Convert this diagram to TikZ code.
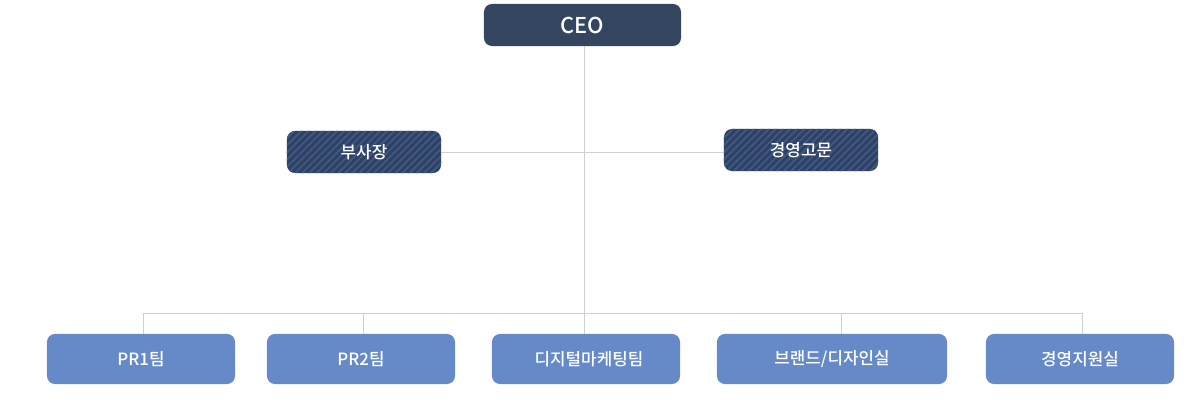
\documentclass[tikz,border=0pt]{standalone}
\usepackage{fontspec}
\setmainfont{Noto Sans CJK KR}[BoldFont={Noto Sans CJK KR Medium}]
\usepackage{tikz}
\usetikzlibrary{patterns.meta}

\definecolor{ceoblue}{HTML}{34465F}
\definecolor{stripebase}{HTML}{2D4266}
\definecolor{stripeline}{HTML}{44597F}
\definecolor{teamblue}{HTML}{658AC7}
\definecolor{linegray}{HTML}{CFCFCF}

\begin{document}
\begin{tikzpicture}[x=0.025cm, y=-0.025cm,
    ceobox/.style={rounded corners=0.2cm, fill=ceoblue, text=white,
      minimum width=4.925cm, minimum height=1.05cm, font=\fontsize{15.5}{18}\selectfont\bfseries},
    sidebox/.style={rounded corners=0.2cm, fill=stripebase, text=white,
      postaction={pattern={Lines[angle=45,distance=3.6pt,line width=1.2pt]}, pattern color=stripeline},
      minimum width=3.85cm, minimum height=1.05cm, font=\fontsize{12}{14}\selectfont\bfseries},
    teambox/.style={rounded corners=0.2cm, fill=teamblue, text=white,
      minimum width=4.7cm, minimum height=1.25cm, font=\fontsize{12}{14}\selectfont\bfseries},
    conn/.style={draw=linegray, line width=0.7pt}]
    \useasboundingbox (0,0) rectangle (1188,418);

    % Top of the chart
    \node[ceobox] (ceo) at (582.5,25) {CEO};
    \node[sidebox] (vp) at (364,152) {부사장};
    \node[sidebox] (adv) at (801,150) {경영고문};

    % Teams
    \node[teambox] (pr1) at (141,359) {PR1팀};
    \node[teambox] (pr2) at (361,359) {PR2팀};
    \node[teambox] (dig) at (586,359) {\hspace*{0.15cm}디지털마케팅팀};
    \node[teambox, minimum width=5.75cm] (brand) at (832,359) {브랜드/디자인실};
    \node[teambox] (supp) at (1080,359) {경영지원실};

    % Connect points
    \coordinate (bus) at (584,313);
    \coordinate (t1) at (143,313);
    \coordinate (t2) at (363,313);
    \coordinate (t4) at (841,313);
    \coordinate (t5) at (1082,313);
    \draw[conn] (ceo.south -| bus) -- (bus |- dig.north);
    \draw[conn] (vp.east) -- (adv.west |- vp.east);
    \draw[conn] (t1) -- (t5);
    \draw[conn] (t1) -- (t1 |- pr1.north);
    \draw[conn] (t2) -- (t2 |- pr2.north);
    \draw[conn] (t4) -- (t4 |- brand.north);
    \draw[conn] (t5) -- (t5 |- supp.north);
\end{tikzpicture}
\end{document}
